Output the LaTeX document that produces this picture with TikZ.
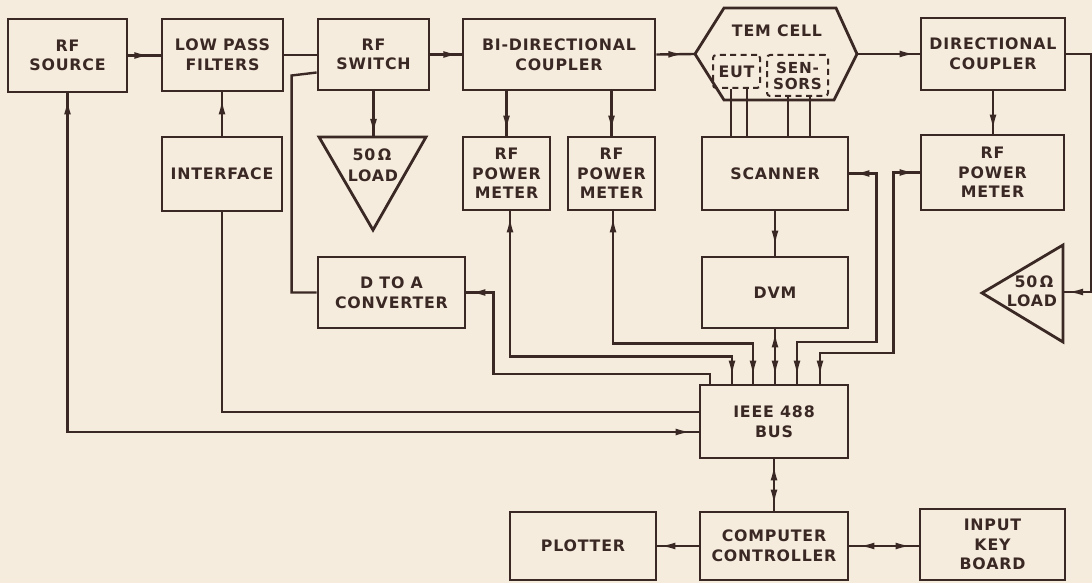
\documentclass[tikz,border=0pt]{standalone}
\usepackage{fontspec}
\usetikzlibrary{arrows.meta,decorations.markings}
\newfontfamily\lblfont[LetterSpace=5]{DejaVu Sans}
\newcommand\mylbl{\lblfont\bfseries\fontsize{7.9}{9.8}\selectfont}
\definecolor{paper}{RGB}{245,236,221}
\definecolor{ink}{RGB}{58,40,36}
\tikzset{
  box/.style={draw=ink, line width=1.4pt, inner sep=1pt, align=center, font=\mylbl, text=ink},
  lbl/.style={inner sep=0pt, align=center, font=\mylbl, text=ink},
  dbox/.style={draw=ink, line width=1pt, dash pattern=on 3pt off 2.2pt, rounded corners=1.5pt, inner sep=0pt, align=center, font=\mylbl, text=ink},
  wire/.style={draw=ink, line width=1.2pt},
  outline/.style={draw=ink, line width=1.4pt, line join=miter},
  tipf/.style={postaction={decorate, decoration={markings, mark=at position #1 with {\arrow{Latex[length=8pt,width=3.4pt]}}}}},
  tipb/.style={postaction={decorate, decoration={markings, mark=at position #1 with {\arrowreversed{Latex[length=8pt,width=3.4pt]}}}}},
}
\begin{document}
\begin{tikzpicture}[x=0.5pt,y=-0.5pt]
\fill[paper] (0,0) rectangle (1092,583);
\useasboundingbox (0,0) rectangle (1092,583);

% top row
\node[box, minimum width=59.5pt, minimum height=36.5pt] (src) at (67.5,55.5) {RF\\SOURCE};
\node[box, minimum width=60.5pt, minimum height=36pt] (lpf) at (222.5,55) {LOW PASS\\FILTERS};
\node[box, minimum width=55.5pt, minimum height=35.5pt] (sw) at (373.5,54.5) {RF\\SWITCH};
\node[box, minimum width=96pt, minimum height=35.5pt] (bidir) at (559,54.5) {BI-DIRECTIONAL\\COUPLER};
\node[box, minimum width=72pt, minimum height=36pt] (dc) at (993,54) {DIRECTIONAL\\COUPLER};

% TEM cell
\coordinate (temW) at (695,54);
\coordinate (temE) at (857,54);
\draw[outline] (temW) -- (724,8) -- (836,8) -- (temE) -- (834,100) -- (724,100) -- cycle;
\node[lbl] (temlbl) at (777,31) {TEM CELL};
\node[dbox, minimum width=23.5pt, minimum height=16.5pt] (eut) at (736.5,71.5) {EUT};
\node[dbox, minimum width=30.5pt, minimum height=20.5pt, font=\lblfont\bfseries\fontsize{7.6}{8}\selectfont] (sens) at (797.5,75.5) {SEN-\\SORS};

% second row
\node[box, minimum width=60pt, minimum height=37pt] (intf) at (222,174) {INTERFACE};
\node[box, minimum width=43.5pt, minimum height=36.5pt] (pm1) at (506.5,173.5) {RF\\POWER\\METER};
\node[box, minimum width=43.5pt, minimum height=36.5pt] (pm2) at (611.5,173.5) {RF\\POWER\\METER};
\node[box, minimum width=73pt, minimum height=36.5pt] (scan) at (775,173.5) {SCANNER};
\node[box, minimum width=71.5pt, minimum height=37.5pt] (pm3) at (992.5,172.5) {RF\\POWER\\METER};

% loads
\coordinate (load1top) at (373.5,137);
\draw[outline] (319,137) -- (426,137) -- (373,230) -- cycle;
\node[lbl] (l1a) at (372,155) {50\,Ω};
\node[lbl] (l1b) at (373,176) {LOAD};
\coordinate (load2R) at (1063,292);
\draw[outline] (1063,245) -- (1063,342) -- (982,293) -- cycle;
\node[lbl] (l2a) at (1034,282) {50\,Ω};
\node[lbl] (l2b) at (1032,301) {LOAD};

% third row
\node[box, minimum width=73.5pt, minimum height=35.5pt] (da) at (391.5,292.5) {D TO A\\CONVERTER};
\node[box, minimum width=73pt, minimum height=35.5pt] (dvm) at (775,292.5) {DVM};

% bus and bottom row
\node[box, minimum width=74pt, minimum height=36.5pt] (bus) at (774,421.5) {IEEE 488\\BUS};
\node[box, minimum width=73pt, minimum height=34pt] (plot) at (583,546) {PLOTTER};
\node[box, minimum width=74pt, minimum height=34pt] (ctrl) at (774,546) {COMPUTER\\CONTROLLER};
\node[box, minimum width=72.5pt, minimum height=35.5pt] (kb) at (992.5,544.5) {INPUT\\KEY\\BOARD};

% connectors: top chain
\draw[wire, tipf=11pt] (src.east) -- (src.east -| lpf.west);
\draw[wire] (lpf.east) -- (lpf.east -| sw.west);
\draw[wire, tipf=14.5pt] (sw.east) -- (sw.east -| bidir.west);
\draw[wire, tipf=14pt] (bidir.east) -- (temW);
\draw[wire, tipf=-2pt] (temE) -- (temE -| dc.west);
\draw[wire, tipf=-2pt] (dc.east) -- ++(25,0) |- (load2R);

% down arrows from couplers and switch
\draw[wire, tipf=-1.5pt] (dc.south) -- (dc.south |- pm3.north);
\draw[wire, tipf=-2pt] (pm1.north |- bidir.south) -- (pm1.north);
\draw[wire, tipf=-2pt] (pm2.north |- bidir.south) -- (pm2.north);
\draw[wire, tipf=-1pt] (sw.south) -- (load1top);
\draw[wire, tipf=-3pt] (intf.north) -- (intf.north |- lpf.south);

% TEM cell to scanner
\draw[wire] ([xshift=-2.75pt]eut.south) -- ([xshift=-2.75pt]eut.south |- scan.north);
\draw[wire] ([xshift=5.25pt]eut.south) -- ([xshift=5.25pt]eut.south |- scan.north);
\draw[wire] ([xshift=-4.75pt]sens.south) -- ([xshift=-4.75pt]sens.south |- scan.north);
\draw[wire] ([xshift=6.25pt]sens.south) -- ([xshift=6.25pt]sens.south |- scan.north);

% scanner / DVM
\draw[wire, tipf=-4.5pt] (scan.south) -- (dvm.north);
\draw[wire, tipb=1pt, tipf=-3.5pt] (dvm.south) -- (dvm.south |- bus.north);

% lines into the bus from above
\draw[wire, tipb=2pt, tipf=-3.5pt] (pm3.west) -- ++(-26,0) -- ++(0,180.5) -| ([xshift=23pt]bus.north);
\draw[wire, tipb=2pt, tipf=-3.5pt] (scan.east) -- ++(27,0) -- ++(0,168.5) -| ([xshift=11.5pt]bus.north);
\draw[wire, tipb=2.5pt, tipf=-3.5pt] ([xshift=0.75pt]pm2.south) -- ++(0,132) -| ([xshift=-10.5pt]bus.north);
\draw[wire, tipb=2.5pt, tipf=-3.5pt] ([xshift=1.75pt]pm1.south) -- ++(0,145) -| ([xshift=-21pt]bus.north);
\draw[wire, tipb=1.5pt] (da.east) -- ++(27,0) -- ++(0,81.5) -| ([xshift=-32pt]bus.north);
\draw[wire] ([yshift=-9pt]sw.west) -- ++(-25,3) |- (da.west);

% lines into the bus from the left
\draw[wire] (intf.south) |- ([yshift=4.75pt]bus.west);
\draw[wire, tipb=2.5pt, tipf=-3.5pt] (src.south) |- ([yshift=-5.25pt]bus.west);

% bottom row
\draw[wire, tipb=2.5pt, tipf=-2.5pt] (bus.south) -- (ctrl.north);
\draw[wire, tipb=1pt] (plot.east) -- (ctrl.west);
\draw[wire, tipb=4.5pt, tipf=-3.5pt] (ctrl.east) -- (ctrl.east -| kb.west);
\end{tikzpicture}
\end{document}
